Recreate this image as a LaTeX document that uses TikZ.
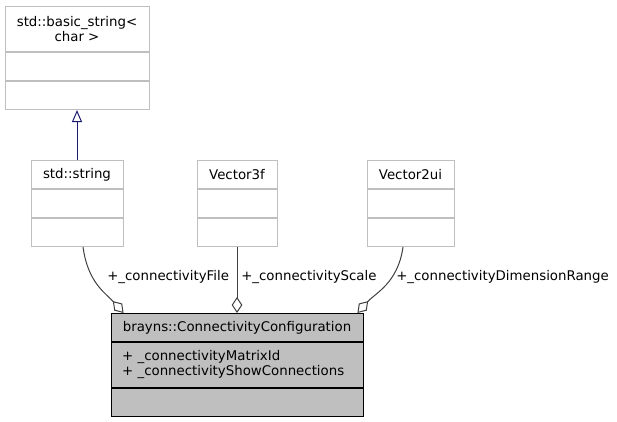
\documentclass[tikz,border=0pt]{standalone}
\usepackage{fontspec}
\setmainfont{DejaVu Sans}
\usetikzlibrary{positioning,arrows.meta,calc}
\definecolor{edgeblue}{HTML}{191970}
\definecolor{edgegray}{HTML}{404040}
\definecolor{boxgray}{HTML}{BFBFBF}

\begin{document}
\begin{tikzpicture}[
    x=0.75pt, y=-0.75pt,
    every node/.style={font=\fontsize{10}{11.25}\selectfont, inner sep=0pt},
    clsbox/.style={draw=boxgray, line width=0.75pt, fill=white, minimum height=21pt, anchor=north},
    mainbox/.style={draw=black, line width=0.65pt, fill=boxgray, minimum height=21pt, minimum width=189pt, anchor=north},
    inherit/.style={draw=edgeblue, line width=0.75pt, -{Triangle[open,length=9pt,width=7.5pt]}},
    aggr/.style={draw=edgegray, line width=0.75pt, -{Diamond[open,length=12pt,width=8pt]}},
    lbl/.style={anchor=west}
]
\useasboundingbox (0,0) rectangle (617,421);

% base class
\node[clsbox, minimum width=108pt, minimum height=33.75pt, align=center] (bsT) at (77,6) {std::basic\_string<\\char >};
\node[clsbox, minimum width=108pt, below=0pt of bsT] (bsA) {};
\node[clsbox, minimum width=108pt, below=0pt of bsA] (bsM) {};

% member types
\node[clsbox, minimum width=69pt] (strT) at (77,160) {std::string};
\node[clsbox, minimum width=69pt, below=0pt of strT] (strA) {};
\node[clsbox, minimum width=69pt, below=0pt of strA] (strM) {};

\node[clsbox, minimum width=60pt] (v3T) at (237,160) {Vector3f};
\node[clsbox, minimum width=60pt, below=0pt of v3T] (v3A) {};
\node[clsbox, minimum width=60pt, below=0pt of v3A] (v3M) {};

\node[clsbox, minimum width=65.25pt] (v2T) at (410.5,160) {Vector2ui};
\node[clsbox, minimum width=65.25pt, below=0pt of v2T] (v2A) {};
\node[clsbox, minimum width=65.25pt, below=0pt of v2A] (v2M) {};

% configuration class
\node[mainbox] (confT) at (237,313) {brayns::ConnectivityConfiguration};
\node[mainbox, minimum height=33.75pt, text width=172.5pt, inner xsep=8.25pt, align=left, below=0pt of confT] (confA) {+ \_connectivityMatrixId\\+ \_connectivityShowConnections};
\node[mainbox, below=0pt of confA] (confM) {};

% edges
\draw[inherit] (strT.north) -- (bsM.south);
\draw[aggr] ($(strM.south)+(6,0)$) .. controls +(5,36) and +(-18,-20) .. ($(confT.north west)+(13,0)$);
\draw[aggr] (v3M.south) -- (confT.north);
\draw[aggr] ($(v2M.south)+(-7.5,0)$) .. controls +(-5,36) and +(18,-20) .. ($(confT.north east)+(-6,0)$);

\node[lbl] (lFile) at (107,277) {+\_connectivityFile};
\node[lbl] (lScale) at (241,277) {+\_connectivityScale};
\node[lbl] (lRange) at (396,277) {+\_connectivityDimensionRange};
\end{tikzpicture}
\end{document}
